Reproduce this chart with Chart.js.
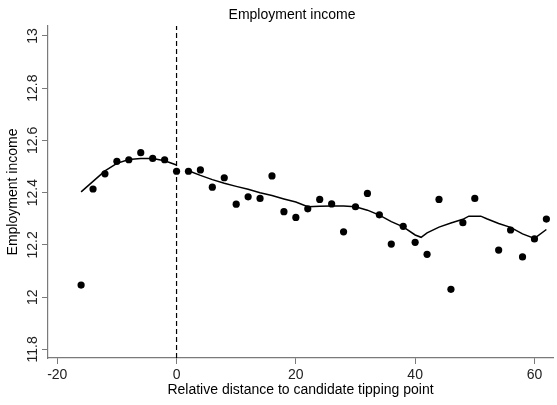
<!DOCTYPE html>
<html>
<head>
<meta charset="utf-8">
<style>
  html, body { margin: 0; padding: 0; background: #fff; }
  #wrap { width: 557px; height: 405px; position: relative; }
</style>
<script src="https://cdn.jsdelivr.net/npm/chart.js"></script>
</head>
<body>
<div id="wrap"><canvas id="employment-income"></canvas></div>
<script>
// binned means (dots)
const binX = [-16, -14, -12, -10, -8, -6, -4, -2, 0, 2, 4, 6, 8, 10, 12, 14, 16, 18, 20, 22,
  24, 26, 28, 30, 32, 34, 36, 38, 40, 42, 44, 46, 48, 50, 54, 56, 58, 60, 62];
const binY = [12.046, 12.414, 12.472, 12.520, 12.526, 12.553, 12.531, 12.526, 12.482, 12.482,
  12.487, 12.421, 12.457, 12.356, 12.384, 12.378, 12.464, 12.327, 12.305, 12.338,
  12.374, 12.357, 12.250, 12.346, 12.397, 12.315, 12.203, 12.271, 12.210, 12.164,
  12.374, 12.030, 12.285, 12.378, 12.180, 12.257, 12.154, 12.223, 12.299];

// smoothed fit, left of the tipping point
const fitLeftX = [-16, -14, -12, -10, -8, -6, -4, -2, 0];
const fitLeftY = [12.403, 12.443, 12.483, 12.512, 12.527, 12.531, 12.531, 12.522, 12.506];

// smoothed fit, right of the tipping point
const fitRightX = [2, 4, 6, 8, 10, 12, 14, 16, 18, 20, 22, 24, 26, 28, 30, 32, 34, 36, 38, 40,
  41, 42, 44, 46, 48, 49, 51, 52, 54, 56, 58, 60, 62];
const fitRightY = [12.484, 12.466, 12.450, 12.436, 12.424, 12.413, 12.400, 12.389, 12.376, 12.364,
  12.346, 12.348, 12.349, 12.349, 12.346, 12.333, 12.314, 12.289, 12.269, 12.238,
  12.229, 12.246, 12.268, 12.284, 12.298, 12.310, 12.310, 12.300, 12.282, 12.267,
  12.242, 12.225, 12.259];

const xTicks = [-20, 0, 20, 40, 60];
const yTicks = [11.8, 12, 12.2, 12.4, 12.6, 12.8, 13];
const cutoff = 0;

const xMin = -21.55, xMax = 63.11;
const yMin = 11.767, yMax = 13.038;

const FONT = 'Arial, "Liberation Sans", sans-serif';
const AXIS_GREY = '#7a7a7a';

const pts = (xs, ys) => xs.map((x, i) => ({x: x, y: ys[i]}));

// white bg, main title, rotated y tick labels (stata style)
const extras = {
  id: 'extras',
  beforeDraw(chart) {
    const ctx = chart.ctx;
    ctx.save();
    ctx.fillStyle = '#fff';
    ctx.fillRect(0, 0, chart.width, chart.height);
    ctx.restore();
  },
  afterDraw(chart) {
    const ctx = chart.ctx;
    const ys = chart.scales.y;
    ctx.save();
    ctx.fillStyle = '#000';
    ctx.font = '14px ' + FONT;
    ctx.textAlign = 'center';
    ctx.textBaseline = 'alphabetic';
    ctx.fillText('Employment income', 292, 18.5);

    ctx.fillStyle = '#222';
    yTicks.forEach(v => {
      const p = ys.getPixelForValue(v);
      ctx.save();
      ctx.translate(36.5, p);
      ctx.rotate(-Math.PI / 2);
      ctx.fillText(String(v), 0, 0);
      ctx.restore();
    });
    ctx.restore();
  }
};

new Chart('employment-income', {
  type: 'scatter',
  data: {
    datasets: [
      {
        label: 'cutoff',
        data: [{x: cutoff, y: yMin}, {x: cutoff, y: yMax}],
        showLine: true,
        borderColor: '#000',
        borderWidth: 1.2,
        borderDash: [5, 3],
        pointRadius: 0
      },
      {
        label: 'fit left',
        data: pts(fitLeftX, fitLeftY),
        showLine: true,
        borderColor: '#000',
        borderWidth: 1.5,
        pointRadius: 0,
        tension: 0
      },
      {
        label: 'fit right',
        data: pts(fitRightX, fitRightY),
        showLine: true,
        borderColor: '#000',
        borderWidth: 1.5,
        pointRadius: 0,
        tension: 0
      },
      {
        label: 'bins',
        data: pts(binX, binY),
        backgroundColor: '#000',
        borderColor: '#000',
        borderWidth: 0,
        pointRadius: 3.6
      }
    ]
  },
  options: {
    responsive: true,
    maintainAspectRatio: false,
    animation: false,
    events: [],
    layout: { padding: { top: 26, left: 0, right: 0, bottom: 0 } },
    plugins: {
      legend: { display: false },
      title: { display: false },
      tooltip: { enabled: false }
    },
    scales: {
      x: {
        type: 'linear',
        min: xMin,
        max: xMax,
        afterBuildTicks: s => { s.ticks = xTicks.map(v => ({value: v})); },
        afterFit: s => { s.height = 47; },
        ticks: {
          color: '#222',
          font: { family: FONT, size: 14 },
          padding: 3,
          maxRotation: 0,
          callback: v => String(v)
        },
        grid: {
          drawOnChartArea: false,
          drawTicks: true,
          tickLength: 6,
          color: AXIS_GREY
        },
        border: { display: true, color: AXIS_GREY, width: 1.2 },
        title: {
          display: true,
          text: 'Relative distance to candidate tipping point',
          color: '#000',
          font: { family: FONT, size: 14 },
          padding: { top: 0, bottom: 6 }
        }
      },
      y: {
        type: 'linear',
        min: yMin,
        max: yMax,
        afterBuildTicks: s => { s.ticks = yTicks.map(v => ({value: v})); },
        afterFit: s => { s.width = 48; },
        ticks: { display: false },
        grid: {
          drawOnChartArea: false,
          drawTicks: true,
          tickLength: 6,
          color: AXIS_GREY
        },
        border: { display: true, color: AXIS_GREY, width: 1.2 },
        title: {
          display: true,
          text: 'Employment income',
          color: '#000',
          font: { family: FONT, size: 14 },
          padding: { top: 5, bottom: 0 }
        }
      }
    }
  },
  plugins: [extras]
});
</script>
</body>
</html>
